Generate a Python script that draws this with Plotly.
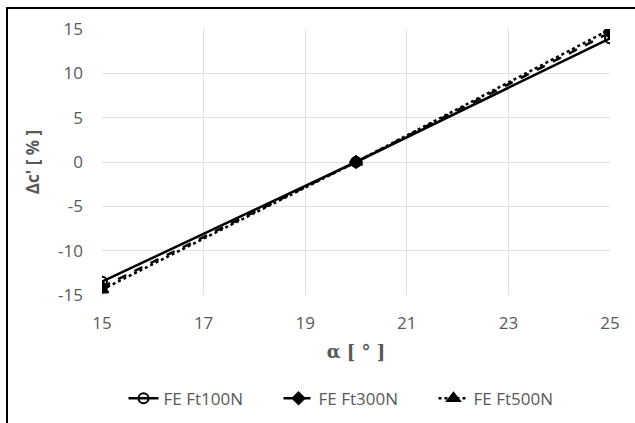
import plotly.graph_objects as go

# Pressure angle [deg] and relative change of mesh stiffness [%]
alpha = [15, 20, 25]
ft100 = [-13.5, 0.0, 13.95]
ft300 = [-14.1, 0.0, 14.6]
ft500 = [-14.4, 0.0, 14.95]

series = [
    ("FE Ft100N", ft100, "solid", "circle-open", 10),
    ("FE Ft300N", ft300, "dash", "diamond", 9),
    ("FE Ft500N", ft500, "dot", "triangle-up", 11),
]

x_ticks = [15, 17, 19, 21, 23, 25]
y_ticks = [15, 10, 5, 0, -5, -10, -15]
y_tick_labels = ["15", "10", "5", "0", "-5", "-10", "-15"]

fig = go.Figure()
for name, vals, dash, sym, size in series:
    fig.add_trace(go.Scatter(
        x=alpha, y=vals, name=name, mode="lines+markers",
        line=dict(color="black", width=2.5, dash=dash),
        marker=dict(symbol=sym, size=size, color="black",
                    line=dict(color="black", width=2)),
    ))

sans = "Open Sans, Liberation Sans, sans-serif"
tick_font = dict(family=sans, size=17, color="#595959")

fig.update_layout(
    width=635, height=423,
    margin=dict(l=102, r=25, t=29, b=128, autoexpand=False),
    paper_bgcolor="white", plot_bgcolor="white",
    showlegend=True,
    legend=dict(orientation="h", x=0.5, xanchor="center", y=-0.39, yanchor="middle",
                font=dict(family=sans, size=17, color="#595959"),
                entrywidth=110, entrywidthmode="pixels", tracegroupgap=0),
    xaxis=dict(range=[15, 25], tickvals=x_ticks, showgrid=True, gridcolor="#e0e0e0",
               gridwidth=1, zeroline=False, showline=False, tickfont=tick_font,
               ticks="", ticklabelstandoff=16,
               title=dict(text="<b>α [ ° ]</b>",
                          font=dict(family="DejaVu Serif, serif", size=18, color="#595959"),
                          standoff=12)),
    yaxis=dict(range=[-15, 15], tickvals=y_ticks, ticktext=y_tick_labels,
               showgrid=True, gridcolor="#e0e0e0",
               gridwidth=1, zeroline=False, showline=False, tickfont=tick_font,
               ticks="", ticklabelstandoff=18,
               title=dict(text="<b>Δc' [ % ]</b>",
                          font=dict(family=sans, size=17, color="#595959"),
                          standoff=14)),
    shapes=[dict(type="rect", xref="paper", yref="paper",
                 x0=-0.187, x1=1.2, y0=-0.6, y1=1.079,
                 line=dict(color="black", width=2), layer="above")],
)

fig.write_html("out.html")
